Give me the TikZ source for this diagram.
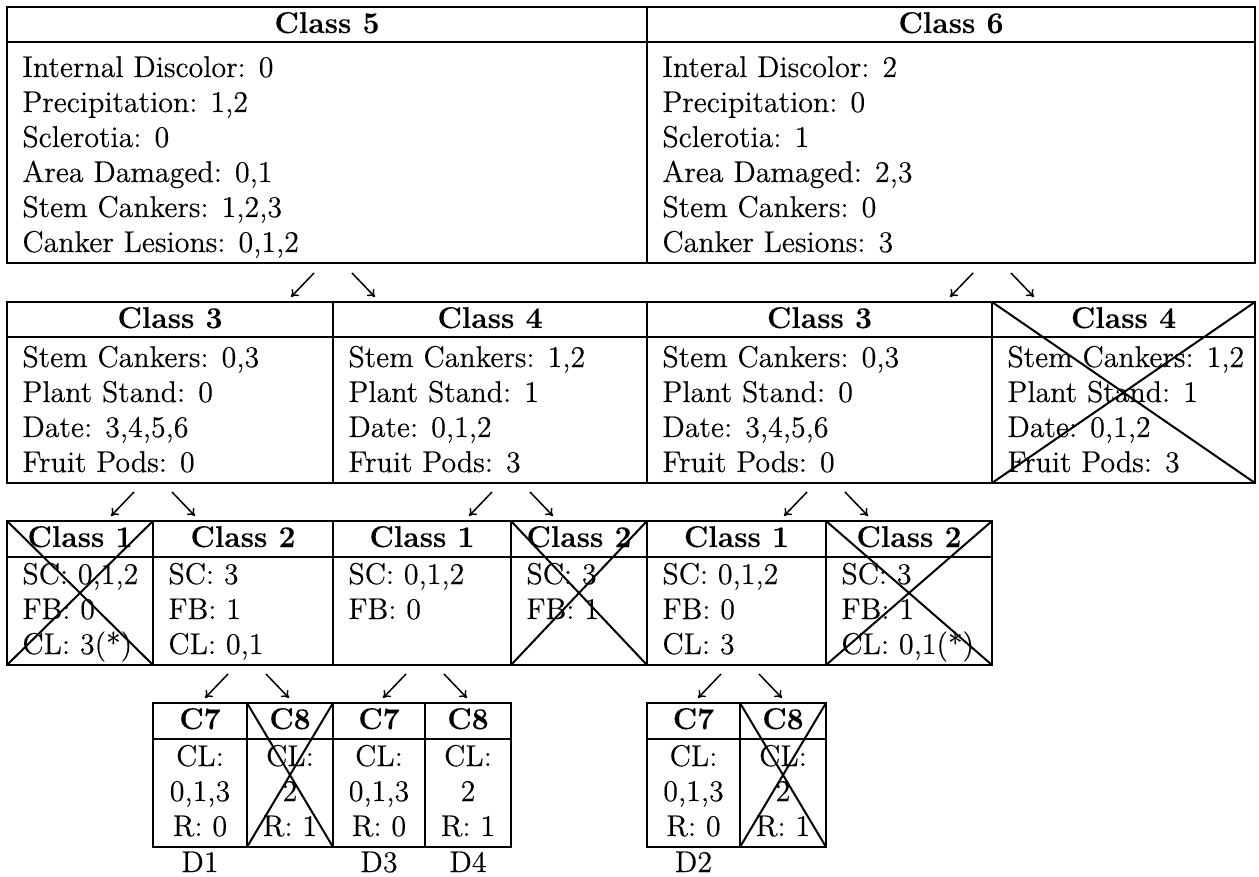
\documentclass[tikz,border=0pt]{standalone}
\usepackage{fontspec}
\setmainfont{lmroman12-regular.otf}[
  BoldFont=lmroman12-bold.otf,
  UprightFeatures={FakeBold=0.35},
  BoldFeatures={FakeBold=0.2}]
\usetikzlibrary{calc,arrows.meta}

\newcommand\bodyfont{\fontsize{15}{18}\selectfont}

% a table cell with a header strip: name, x1, y1, x2, y2, header text
\newcommand\tcell[6]{%
  \node[cellbox, minimum width={(#4-#2)*0.5pt}, minimum height={(#5-#3)*0.5pt}] (#1) at (#2,#3) {};
  \draw[rule] ($(#1.north west)+(0,35.5)$) -- ($(#1.north east)+(0,35.5)$);
  \node[head] (#1-h) at ($(#1.north)+(0,26)$) {#6};
}
% left-aligned body lines: cell name, first baseline, list of lines
\newcommand\bodyrows[3]{%
  \foreach \t [count=\i] in {#3} {
    \node[body] (#1-\i) at ($(#1.north west)+(15,{#2+35*\i-35})$) {\t};
  }%
}
% centred body lines
\newcommand\midrows[3]{%
  \foreach \t [count=\i] in {#3} {
    \node[mid] (#1-\i) at ($(#1.north)+(0,{#2+35*\i-35})$) {\t};
  }%
}
% a cell struck out with an X
\newcommand\xcross[1]{%
  \draw[crossline] (#1.north west) -- (#1.south east) (#1.north east) -- (#1.south west);
}
% a pair of split arrows centred over the right edge of the given child cell
\newcommand\forkarrows[1]{%
  \coordinate (#1-la) at ($(#1.north east)+(-19,-29)$);
  \coordinate (#1-lb) at ($(#1.north east)+(-42,-5)$);
  \coordinate (#1-ra) at ($(#1.north east)+(19,-29)$);
  \coordinate (#1-rb) at ($(#1.north east)+(42,-5)$);
  \draw[arr] (#1-la) -- (#1-lb);
  \draw[arr] (#1-ra) -- (#1-rb);
}

\begin{document}
\begin{tikzpicture}[x=0.5pt,y=-0.5pt,
  cellbox/.style={draw, line width=1pt, rectangle, inner sep=0pt, outer sep=0pt, anchor=north west},
  rule/.style={line width=1pt},
  crossline/.style={line width=1pt},
  arr/.style={line width=0.75pt, -{To[length=3.5pt,width=5pt]}},
  body/.style={anchor=base west, inner sep=0pt, font=\bodyfont},
  mid/.style={anchor=base, inner sep=0pt, font=\bodyfont},
  head/.style={anchor=base, inner sep=0pt, font=\bodyfont\bfseries}]
\useasboundingbox (0,0) rectangle (1259,877);

% top level
\tcell{c5}{7}{7}{647}{263}{Class 5}
\tcell{c6}{647}{7}{1255}{263}{Class 6}
\bodyrows{c5}{70}{{Internal Discolor: 0},{Precipitation: 1,2},{Sclerotia: 0},{Area Damaged: 0,1},{Stem Cankers: 1,2,3},{Canker Lesions: 0,1,2}}
\bodyrows{c6}{70}{{Interal Discolor: 2},{Precipitation: 0},{Sclerotia: 1},{Area Damaged: 2,3},{Stem Cankers: 0},{Canker Lesions: 3}}

% second level
\tcell{l2a}{7}{302}{333}{483}{Class 3}
\tcell{l2b}{333}{302}{647}{483}{Class 4}
\tcell{l2c}{647}{302}{992}{483}{Class 3}
\tcell{l2d}{992}{302}{1255}{483}{Class 4}
\bodyrows{l2a}{65}{{Stem Cankers: 0,3},{Plant Stand: 0},{Date: 3,4,5,6},{Fruit Pods: 0}}
\bodyrows{l2b}{65}{{Stem Cankers: 1,2},{Plant Stand: 1},{Date: 0,1,2},{Fruit Pods: 3}}
\bodyrows{l2c}{65}{{Stem Cankers: 0,3},{Plant Stand: 0},{Date: 3,4,5,6},{Fruit Pods: 0}}
\bodyrows{l2d}{65}{{Stem Cankers: 1,2},{Plant Stand: 1},{Date: 0,1,2},{Fruit Pods: 3}}
\xcross{l2d}

% third level
\tcell{l3a}{7}{521}{153}{665}{Class 1}
\tcell{l3b}{153}{521}{333}{665}{Class 2}
\tcell{l3c}{333}{521}{511}{665}{Class 1}
\tcell{l3d}{511}{521}{647}{665}{Class 2}
\tcell{l3e}{647}{521}{826}{665}{Class 1}
\tcell{l3f}{826}{521}{992}{665}{Class 2}
\bodyrows{l3a}{63}{{SC: 0,1,2},{FB: 0},{CL: 3(*)}}
\bodyrows{l3b}{63}{{SC: 3},{FB: 1},{CL: 0,1}}
\bodyrows{l3c}{63}{{SC: 0,1,2},{FB: 0}}
\bodyrows{l3d}{63}{{SC: 3},{FB: 1}}
\bodyrows{l3e}{63}{{SC: 0,1,2},{FB: 0},{CL: 3}}
\bodyrows{l3f}{63}{{SC: 3},{FB: 1},{CL: 0,1(*)}}
\xcross{l3a}
\xcross{l3d}
\xcross{l3f}

% fourth level
\tcell{l4a}{153}{703}{247}{847}{C7}
\tcell{l4b}{247}{703}{333}{847}{C8}
\tcell{l4c}{333}{703}{425}{847}{C7}
\tcell{l4d}{425}{703}{511}{847}{C8}
\tcell{l4e}{647}{703}{740}{847}{C7}
\tcell{l4f}{740}{703}{826}{847}{C8}
\midrows{l4a}{63}{{CL:},{0,1,3},{R: 0}}
\midrows{l4b}{63}{{CL:},{2},{R: 1}}
\midrows{l4c}{63}{{CL:},{0,1,3},{R: 0}}
\midrows{l4d}{63}{{CL:},{2},{R: 1}}
\midrows{l4e}{63}{{CL:},{0,1,3},{R: 0}}
\midrows{l4f}{63}{{CL:},{2},{R: 1}}
\xcross{l4b}
\xcross{l4f}

% leaf labels
\node[mid] (d1) at ($(l4a.south)+(0,25)$) {D1};
\node[mid] (d3) at ($(l4c.south)+(0,25)$) {D3};
\node[mid] (d4) at ($(l4d.south)+(0,25)$) {D4};
\node[mid] (d2) at ($(l4e.south)+(0,25)$) {D2};

% split arrows between levels
\forkarrows{l2a}
\forkarrows{l2c}
\forkarrows{l3a}
\forkarrows{l3c}
\forkarrows{l3e}
\forkarrows{l4a}
\forkarrows{l4c}
\forkarrows{l4e}
\end{tikzpicture}
\end{document}
